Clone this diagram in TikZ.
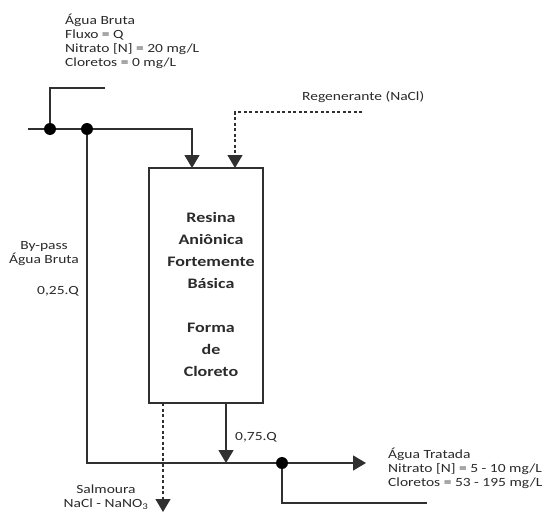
\documentclass[tikz,border=0pt]{standalone}
\usepackage{fontspec}
\setmainfont{Carlito}[FakeStretch=1.24]
\usetikzlibrary{arrows.meta}
\definecolor{ln}{HTML}{303030}
\definecolor{tx}{HTML}{2A2A2A}
\tikzset{
  flow/.style={draw=ln, line width=1.5pt},
  tip/.style={-{Triangle[width=15pt,length=13pt]}},
  dsh/.style={draw=ln, line width=1.3pt, dash pattern=on 3pt off 2.5pt},
  dot/.style={circle, fill=black, inner sep=0pt, minimum size=12pt},
  lbl/.style={text=tx, font=\fontsize{12.5}{14}\selectfont, inner sep=0pt},
}
\begin{document}
\begin{tikzpicture}[x=1pt,y=-1pt]
\useasboundingbox (0,0) rectangle (550,514);
% box
\node[draw=ln, line width=1.3pt, minimum width=114pt, minimum height=235pt, inner sep=0pt] (box) at (206,285.5) {};
\node[font=\bfseries\fontsize{14.5}{22}\selectfont, text=tx, align=center] (boxt) at (211,294) {Resina\\Aniônica\\Fortemente\\Básica\\[22pt]Forma\\de\\Cloreto};
% coordinates
\coordinate (in0) at (28,129);
\coordinate (j1) at (192,129);
\coordinate (t1) at (192,168);
\coordinate (f0) at (105,88);
\coordinate (f1) at (50,88);
\coordinate (r0) at (362,112);
\coordinate (r1) at (235,112);
\coordinate (t2) at (235,168);
\coordinate (b0) at (87,463);
\coordinate (o0) at (226,403);
\coordinate (o1) at (226,463);
\coordinate (e1) at (366,463);
\coordinate (s0) at (163,403);
\coordinate (s1) at (163,512);
\coordinate (c2) at (427,503);
\coordinate (p1) at (50,129);
\coordinate (p2) at (87,129);
\coordinate (p3) at (282,463);
% lines
\draw[flow, tip] (in0) -- (j1) -- (t1);
\draw[flow] (f0) -- (f1) -- (p1);
\draw[flow, tip] (p2) -- (b0) -- (e1);
\draw[flow, tip] (o0) -- (o1);
\draw[flow] (p3) |- (c2);
\draw[dsh, tip] (r0) -- (r1) -- (t2);
\draw[dsh, tip] (s0) -- (s1);
\node[dot] (d1) at (p1) {};
\node[dot] (d2) at (p2) {};
\node[dot] (d3) at (p3) {};
% labels
\node[lbl, anchor=north west, align=left] (agua) at (65,14) {Água Bruta\\Fluxo = Q\\Nitrato [N] = 20 mg/L\\Cloretos = 0 mg/L};
\node[lbl, anchor=west] (reg) at (302,97) {Regenerante (NaCl)};
\node[lbl, align=center] (byp) at (44,254) {By-pass\\Água Bruta};
\node[lbl, anchor=east] (q25) at (79,291) {0,25.Q};
\node[lbl, anchor=west] (q75) at (235,437) {0,75.Q};
\node[lbl, anchor=north west, align=left] (trat) at (388,448) {Água Tratada\\Nitrato [N] = 5 - 10 mg/L\\Cloretos = 53 - 195 mg/L};
\node[lbl, align=center] (salm) at (106,497) {Salmoura\\NaCl - NaNO\textsubscript{3}};
\end{tikzpicture}
\end{document}
